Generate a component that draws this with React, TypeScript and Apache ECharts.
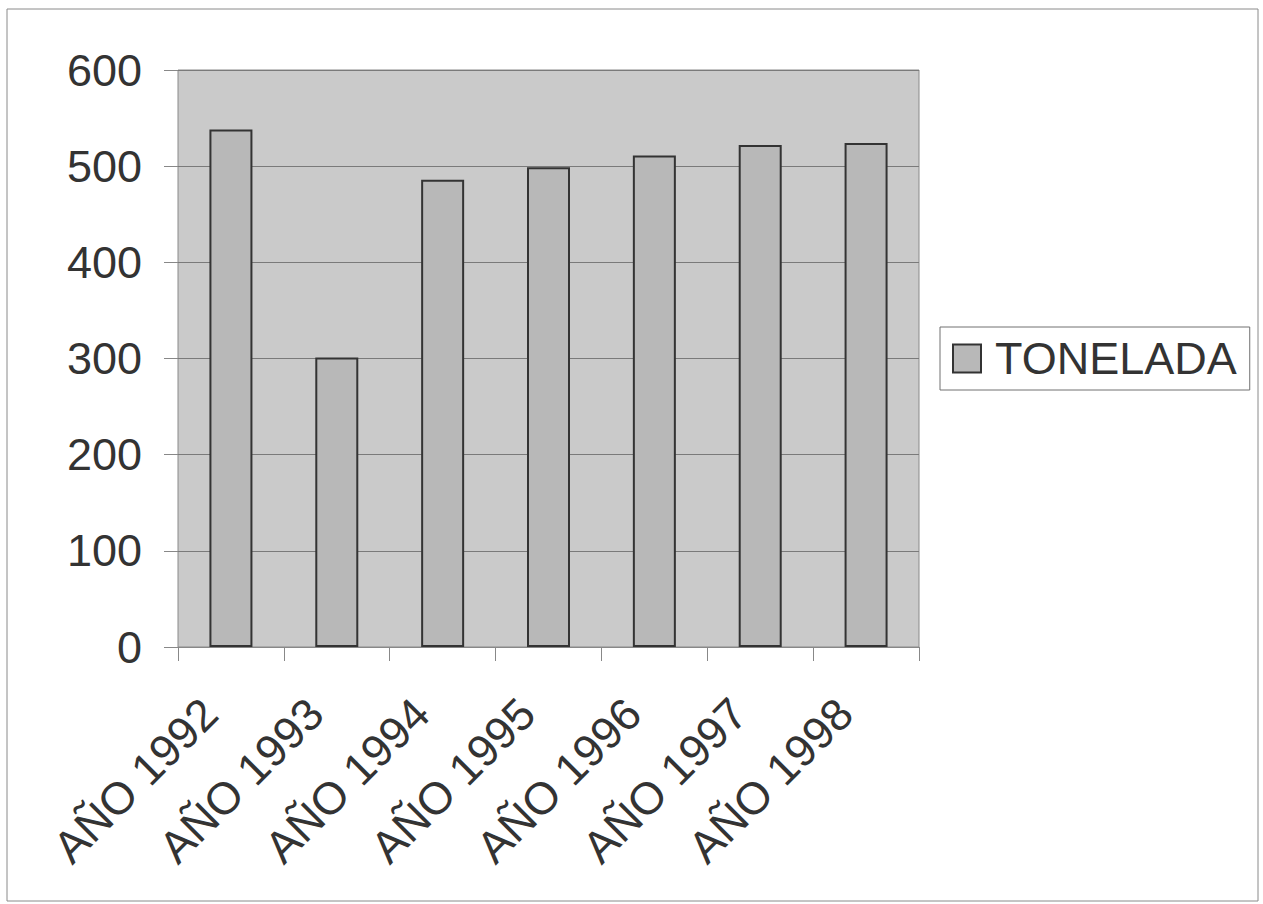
import React, { useEffect, useRef } from "react";
import * as echarts from "echarts";

const categories = ["AÑO 1992", "AÑO 1993", "AÑO 1994", "AÑO 1995", "AÑO 1996", "AÑO 1997", "AÑO 1998"];
const toneladas = [538, 301, 486, 499, 511, 522, 524];
const seriesName = "TONELADA";

export default function App() {
  const ref = useRef<HTMLDivElement>(null);
  useEffect(() => {
    if (!ref.current) return;
    const chart = echarts.init(ref.current, undefined, { renderer: "svg" });
    const font = "'Liberation Sans', Arial, sans-serif";
    chart.setOption({
      animation: false,
      backgroundColor: "#ffffff",
      textStyle: { fontFamily: font },
      graphic: [
        {
          type: "rect",
          shape: { x: 7, y: 9, width: 1251, height: 892 },
          style: { fill: "none", stroke: "#8a8a8a", lineWidth: 1 },
          z: 0,
        },
      ],
      legend: {
        show: true,
        data: [seriesName],
        orient: "vertical",
        left: 940,
        top: 327,
        padding: [9, 13, 9, 12],
        borderColor: "#707070",
        borderWidth: 1,
        backgroundColor: "#ffffff",
        itemWidth: 28,
        itemHeight: 28,
        itemGap: 0,
        icon: "rect",
        textStyle: { fontSize: 45, color: "#333333", fontFamily: font, lineHeight: 45, padding: [0, 0, 0, 9] },
      },
      grid: {
        left: 178,
        top: 70,
        width: 741,
        height: 577,
        show: true,
        backgroundColor: "#cacaca",
        borderColor: "#8a8a8a",
        borderWidth: 1,
      },
      xAxis: {
        type: "category",
        data: categories,
        boundaryGap: true,
        axisLine: { show: true, lineStyle: { color: "#888888", width: 1 } },
        axisTick: { show: true, length: 14, alignWithLabel: false, lineStyle: { color: "#888888" } },
        axisLabel: {
          rotate: 45,
          interval: 0,
          margin: 38,
          padding: [0, 30, 0, 0],
          fontSize: 45,
          color: "#333333",
          fontFamily: font,
        },
      },
      yAxis: {
        type: "value",
        min: 0,
        max: 600,
        interval: 100,
        axisLine: { show: false },
        axisTick: { show: true, length: 14, lineStyle: { color: "#888888" } },
        splitLine: { show: true, lineStyle: { color: "#7a7a7a", width: 1 } },
        axisLabel: { fontSize: 45, color: "#333333", margin: 36, fontFamily: font },
      },
      series: [
        {
          name: seriesName,
          type: "bar",
          data: toneladas,
          barWidth: 43,
          itemStyle: { color: "#b8b8b8", borderColor: "#333333", borderWidth: 2 },
        },
      ],
    });
    return () => chart.dispose();
  }, []);
  return (
    <div
      ref={ref}
      style={{ position: "fixed", left: 0, top: 0, width: 1263, height: 904 }}
    />
  );
}
